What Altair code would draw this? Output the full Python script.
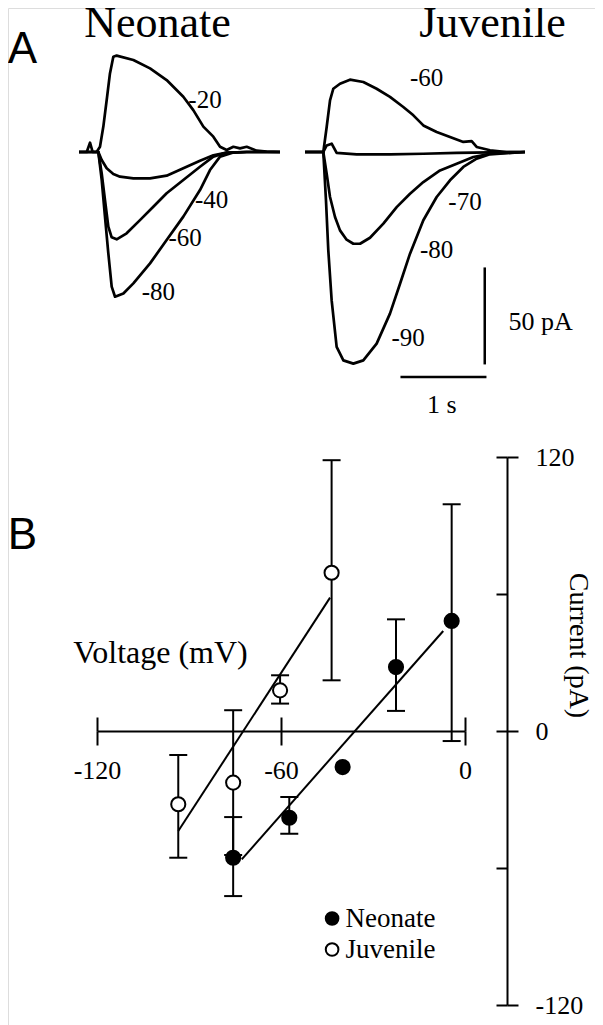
import altair as alt
import pandas as pd

SERIF = "Liberation Serif"
SANS = "Liberation Sans"

# ---------------- Panel A: current traces (time in s, current in pA) ----------------
neo_steps = ["-20", "-40", "-60", "-80"]
neo_m20_t = [0, 0.09, 0.128, 0.159, 0.205, 0.244, 0.283, 0.322, 0.36, 0.399, 0.438, 0.632, 0.826,
             1.019, 1.213, 1.329, 1.446, 1.562, 1.64, 1.717, 1.795, 1.872, 1.95, 2.066, 2.182, 2.337]
neo_m20_i = [0, 0, 4.8, 0, 0, 2.7, 13.1, 26.8, 40.5, 49.1, 49.7, 47.4, 43.1,
             37.1, 28.5, 21.6, 13.1, 7.9, 2.7, 1.0, 2.7, 1.9, 2.7, 0.7, 0.2, 0]
neo_m40_t = [0, 0.225, 0.264, 0.322, 0.399, 0.477, 0.632, 0.826, 1.019, 1.213, 1.407, 1.562, 1.717, 1.95, 2.337]
neo_m40_i = [0, 0, -4.1, -8.4, -11.3, -12.7, -13.6, -13.6, -12.2, -8.4, -4.5, -1.7, -0.3, 0, 0]
neo_m60_t = [0, 0.225, 0.264, 0.302, 0.341, 0.38, 0.438, 0.554, 0.709, 0.864, 1.019, 1.213, 1.407,
             1.562, 1.717, 1.95, 2.337]
neo_m60_i = [0, 0, -11.0, -24.7, -38.5, -44.0, -45.0, -41.9, -35.1, -28.2, -21.3, -14.4, -7.6,
             -2.4, -0.3, 0, 0]
neo_m80_t = [0, 0.225, 0.264, 0.302, 0.341, 0.38, 0.419, 0.516, 0.632, 0.826, 1.019, 1.213, 1.407,
             1.523, 1.64, 1.795, 1.95, 2.337]
neo_m80_i = [0, 0, -14.4, -33.3, -52.2, -69.4, -74.6, -72.9, -67.7, -57.4, -45.4, -33.3, -19.6,
             -9.3, -2.4, -0.3, 0, 0]

juv_steps = ["-60", "-70", "-80", "-90"]
juv_m60_t = [0, 0.213, 0.252, 0.291, 0.329, 0.407, 0.523, 0.678, 0.833, 0.988, 1.143, 1.26, 1.376,
             1.531, 1.686, 1.841, 1.938, 1.996, 2.151, 2.345, 2.558]
juv_m60_i = [0, 0, 12.9, 26.6, 32.6, 35.2, 37.3, 36.1, 32.6, 28.4, 23.2, 18.9, 13.7,
             10.3, 7.7, 5.2, 5.6, 2.6, 0.9, 0, 0]
juv_m70_t = [0, 0.213, 0.252, 0.31, 0.368, 0.601, 0.988, 1.376, 1.764, 2.151, 2.558]
juv_m70_i = [0, 0, 3.4, 4.3, -0.5, -1.2, -1.2, -0.9, -0.5, -0.2, 0]
juv_m80_t = [0, 0.213, 0.252, 0.291, 0.349, 0.407, 0.484, 0.562, 0.64, 0.756, 0.911, 1.066, 1.221,
             1.376, 1.57, 1.764, 1.957, 2.151, 2.558]
juv_m80_i = [0, 0, -11.2, -23.2, -33.5, -40.4, -45.2, -47.3, -47.3, -44.2, -36.9, -28.4, -21.5,
             -15.5, -9.5, -6.0, -2.6, -0.9, 0]
juv_m90_t = [0, 0.213, 0.244, 0.271, 0.31, 0.368, 0.446, 0.562, 0.678, 0.833, 0.988, 1.105, 1.221,
             1.376, 1.531, 1.686, 1.841, 1.996, 2.151, 2.558]
juv_m90_i = [0, 0, -24.9, -50.7, -76.5, -100.5, -107.4, -109.1, -107.4, -98.8, -83.3, -67.9, -52.4,
             -35.2, -23.2, -14.6, -7.7, -3.4, -1.2, 0]

# trace label anchors (s, pA)
neo_label_t = [1.465, 1.543, 1.233, 0.922]
neo_label_i = [26.8, -24.7, -44.5, -72.0]
juv_label_t = [1.415, 1.86, 1.53, 1.20]
juv_label_i = [38.0, -25.6, -50.5, -96.0]

# scale bars: 50 pA and 1 s
bar_amp_t = [2.09]
bar_amp_i = [-109.5, -59.5]
bar_time_t = [1.11, 2.11]
bar_time_i = [-116]
bar_texts = ["50 pA", "1 s"]
bar_text_t = [2.74, 1.59]
bar_text_i = [-87.5, -130.4]

# ---------------- Panel B: I-V relation ----------------
groups = ["Neonate", "Juvenile"]
juv_v = [-93.5, -75.6, -60.3, -43.5]
juv_i = [-32.1, -22.6, 17.8, 69.3]
juv_lo = [-55.5, -54.3, 12.0, 22.2]
juv_hi = [-10.5, 9.1, 24.4, 118.6]

neo_v = [-75.6, -57.3, -39.9, -22.5, -4.35]
neo_i = [-55.5, -38.0, -15.8, 28.0, 48.2]
neo_lo = [-72.3, -45.0, None, 8.8, -4.4]
neo_hi = [-37.7, -28.9, None, 48.9, 99.3]

juv_fit_v = [-93.5, -44.0]
juv_fit_i = [-43.8, 58.4]
neo_fit_v = [-72.8, -7.1]
neo_fit_i = [-56.2, 43.8]

x_ticks = [-120, -60, 0]
y_ticks = [-120, -60, 0, 60, 120]
y_labels = [-120, 0, 120]


# ---------------- tables ----------------
def trace_frame(names, ts, cs):
    rows = []
    for n, tt, cc in zip(names, ts, cs):
        for a, b in zip(tt, cc):
            rows.append({"trace": n, "t": a, "i": b})
    return pd.DataFrame(rows)


neo_df = trace_frame(neo_steps, [neo_m20_t, neo_m40_t, neo_m60_t, neo_m80_t],
                     [neo_m20_i, neo_m40_i, neo_m60_i, neo_m80_i])
juv_df = trace_frame(juv_steps, [juv_m60_t, juv_m70_t, juv_m80_t, juv_m90_t],
                     [juv_m60_i, juv_m70_i, juv_m80_i, juv_m90_i])
neo_lab = pd.DataFrame({"label": neo_steps, "t": neo_label_t, "i": neo_label_i})
juv_lab = pd.DataFrame({"label": juv_steps, "t": juv_label_t, "i": juv_label_i})

err_rows, cap_rows = [], []
for g, vs, los, his in [("Juvenile", juv_v, juv_lo, juv_hi), ("Neonate", neo_v, neo_lo, neo_hi)]:
    for v, lo, hi in zip(vs, los, his):
        if lo is None:
            continue
        err_rows.append({"group": g, "v": v, "lo": lo, "hi": hi})
        cap_rows.append({"group": g, "v": v, "val": lo})
        cap_rows.append({"group": g, "v": v, "val": hi})
err_df = pd.DataFrame(err_rows)
cap_df = pd.DataFrame(cap_rows)
pts_df = pd.DataFrame({"group": ["Juvenile"] * len(juv_v) + ["Neonate"] * len(neo_v),
                       "v": juv_v + neo_v, "i": juv_i + neo_i})
fit_df = pd.DataFrame({"group": ["Juvenile"] * 2 + ["Neonate"] * 2,
                       "v": juv_fit_v + neo_fit_v, "i": juv_fit_i + neo_fit_i})

# ---------------- scales (pixel ranges inside the 587 x 1017 canvas) ----------------
W, H = 587, 1017
xs_neo = alt.Scale(domain=[0, 2.34], range=[71, 272.24], nice=False, zero=False)
xs_juv = alt.Scale(domain=[0, 2.56], range=[297, 517.16], nice=False, zero=False)
ys_A = alt.Scale(domain=[-120, 60], range=[376.8, 27.6], nice=False, zero=False)
xs_B = alt.Scale(domain=[-120, 0], range=[89, 457], nice=False, zero=False)
ys_B = alt.Scale(domain=[-120, 120], range=[997, 449], nice=False, zero=False)
X0_PIX, Y0_PIX = 499, 723   # where the B axes cross (V = +13.5 mV line, I = 0)


def enc(xs, ys, xf, yf, xaxis=None, yaxis=None):
    return dict(x=alt.X(f"{xf}:Q", scale=xs, axis=xaxis), y=alt.Y(f"{yf}:Q", scale=ys, axis=yaxis))


def single(label, xf, xv, yf, yv):
    return pd.DataFrame({"label": [label], xf: [xv], yf: [yv]})


# ---------------- Panel A ----------------
neo_lines = alt.Chart(neo_df).mark_line(color="black", strokeWidth=2.7, strokeJoin="round").encode(
    detail="trace:N", **enc(xs_neo, ys_A, "t", "i"))
neo_text = alt.Chart(neo_lab).mark_text(font=SERIF, fontSize=25, color="black", align="center",
                                        baseline="middle").encode(text="label:N", **enc(xs_neo, ys_A, "t", "i"))
neo_title = alt.Chart(single("Neonate", "t", 0.913, "i", 59.3)).mark_text(
    font=SERIF, fontSize=44, color="black", align="center", baseline="alphabetic").encode(
    text="label:N", **enc(xs_neo, ys_A, "t", "i"))
letter_a = alt.Chart(single("A", "t", -0.657, "i", 45.9)).mark_text(
    font=SANS, fontSize=44, color="black", align="center", baseline="alphabetic").encode(
    text="label:N", **enc(xs_neo, ys_A, "t", "i"))
neo = alt.layer(neo_lines, neo_text, neo_title, letter_a)

juv_lines = alt.Chart(juv_df).mark_line(color="black", strokeWidth=2.7, strokeJoin="round").encode(
    detail="trace:N", **enc(xs_juv, ys_A, "t", "i"))
juv_text = alt.Chart(juv_lab).mark_text(font=SERIF, fontSize=25, color="black", align="center",
                                        baseline="middle").encode(text="label:N", **enc(xs_juv, ys_A, "t", "i"))
juv_title = alt.Chart(single("Juvenile", "t", 2.18, "i", 59.3)).mark_text(
    font=SERIF, fontSize=44, color="black", align="center", baseline="alphabetic").encode(
    text="label:N", **enc(xs_juv, ys_A, "t", "i"))
bar_v = alt.Chart(pd.DataFrame({"t": bar_amp_t, "i": [bar_amp_i[0]], "i2": [bar_amp_i[1]]})).mark_rule(
    color="black", strokeWidth=2.5).encode(y2="i2:Q", **enc(xs_juv, ys_A, "t", "i"))
bar_h = alt.Chart(pd.DataFrame({"t": [bar_time_t[0]], "t2": [bar_time_t[1]], "i": bar_time_i})).mark_rule(
    color="black", strokeWidth=2.5).encode(x2="t2:Q", **enc(xs_juv, ys_A, "t", "i"))
bar_txt = alt.Chart(pd.DataFrame({"label": bar_texts, "t": bar_text_t, "i": bar_text_i})).mark_text(
    font=SERIF, fontSize=26, color="black", align="center", baseline="middle").encode(
    text="label:N", **enc(xs_juv, ys_A, "t", "i"))
juv = alt.layer(juv_lines, juv_text, juv_title, bar_v, bar_h, bar_txt)

# ---------------- Panel B ----------------
common = dict(domainColor="black", tickColor="black", labelColor="black", titleColor="black",
              grid=False, labelFlush=False, labelOverlap=False)
x_bottom = alt.Axis(orient="bottom", offset=Y0_PIX - H, values=x_ticks, tickSize=14, tickWidth=2,
                    domainWidth=2, labelFont=SERIF, labelFontSize=26, labelPadding=12,
                    labelExpr="'' + datum.value", title="Voltage (mV)", titleFont=SERIF, titleFontSize=32,
                    titleFontWeight="normal", titleX=152, titleY=-69, titleAlign="center",
                    titleBaseline="alphabetic", titleAngle=0, **common)
x_top = alt.Axis(orient="top", offset=-Y0_PIX, values=x_ticks, tickSize=14, tickWidth=2, domain=False,
                 labels=False, title=None, **common)
y_right = alt.Axis(orient="right", offset=X0_PIX - W, values=y_labels, tickSize=11, tickWidth=2,
                   domainWidth=2, labelFont=SERIF, labelFontSize=26, labelPadding=17,
                   labelExpr="'' + datum.value", title="Current (pA)", titleFont=SERIF, titleFontSize=28,
                   titleFontWeight="normal", titleAngle=90, titleX=70, titleY=637, titleAlign="center",
                   titleBaseline="middle", **common)
y_left = alt.Axis(orient="left", offset=-X0_PIX, values=y_ticks, tickSize=11, tickWidth=2, domain=False,
                  labels=False, title=None, **common)

err = alt.Chart(err_df).mark_rule(color="black", strokeWidth=2).encode(
    y2="hi:Q", **enc(xs_B, ys_B, "v", "lo", x_bottom, y_right))
caps = alt.Chart(cap_df).mark_tick(orient="horizontal", size=18, thickness=2, color="black", opacity=1).encode(
    **enc(xs_B, ys_B, "v", "val", x_top, y_left))
fits = alt.Chart(fit_df).mark_line(color="black", strokeWidth=2).encode(
    detail="group:N", **enc(xs_B, ys_B, "v", "i"))
pts = alt.Chart(pts_df).mark_circle(size=200, stroke="black", strokeWidth=2, opacity=1).encode(
    fill=alt.Fill("group:N", scale=alt.Scale(domain=groups, range=["black", "white"]),
                  legend=alt.Legend(orient="none", legendX=310.6, legendY=897, title=None,
                                    symbolType="circle", symbolSize=160, symbolStrokeColor="black",
                                    symbolStrokeWidth=2, labelFont=SERIF, labelFontSize=27,
                                    labelColor="black", labelOffset=0, rowPadding=3, padding=0)),
    **enc(xs_B, ys_B, "v", "i"))
letter_b = alt.Chart(single("B", "v", -144.3, "i", 79.9)).mark_text(
    font=SANS, fontSize=44, color="black", align="center", baseline="alphabetic").encode(
    text="label:N", **enc(xs_B, ys_B, "v", "i"))
panel_b = alt.layer(err, caps, fits, pts, letter_b).resolve_axis(x="independent", y="independent")

chart = (
    alt.layer(neo, juv, panel_b)
    .resolve_scale(x="independent", y="independent")
    .properties(width=W, height=H, autosize=alt.AutoSizeParams(type="none"), padding=0)
    .configure_view(stroke=None)
    .configure(background="white")
)

chart.save("out.html", embed_options={"renderer": "svg", "actions": False})
